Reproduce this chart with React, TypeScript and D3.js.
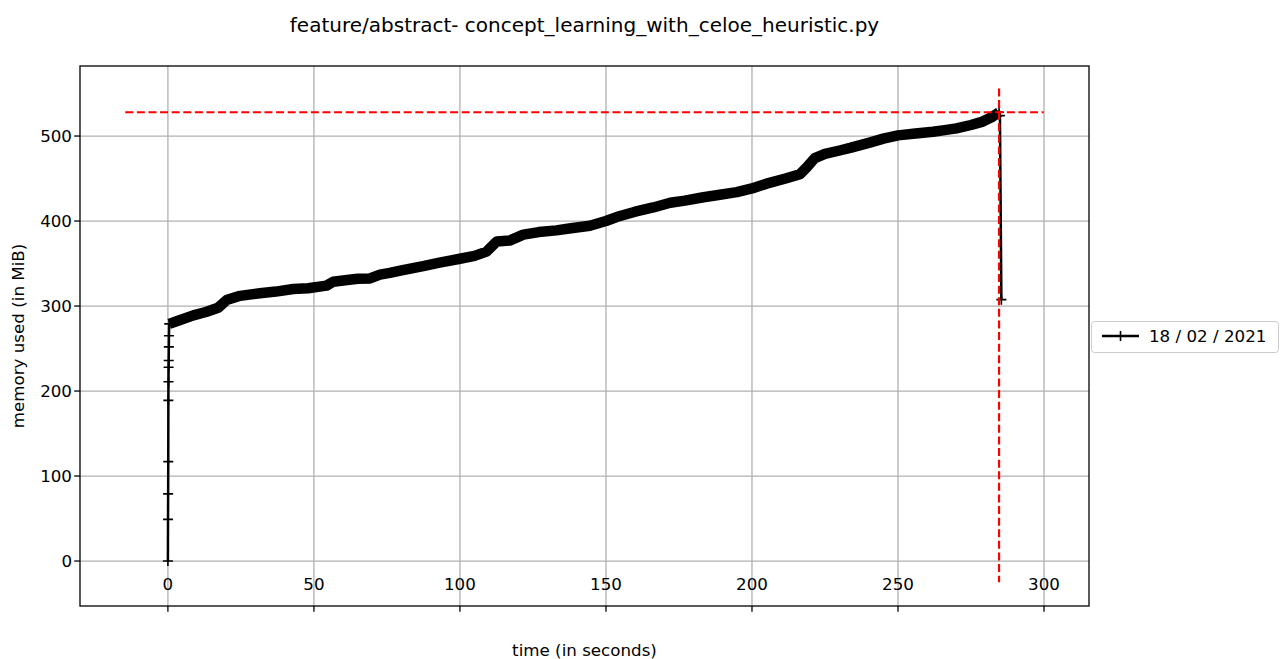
import React from 'react';
import * as d3 from 'd3';

// memory samples (seconds, MiB)
const startTimes = [0, 0.04, 0.08, 0.12, 0.16, 0.2, 0.24, 0.28, 0.32, 0.36, 0.45];
const startMem = [0, 49, 79, 117, 189, 211, 228, 236, 252, 265, 279];

const runTimes = [0.45, 3, 8.7, 13, 17.2, 20.1, 24.7, 31.5, 37, 42.9, 48, 54.3, 56.6, 60, 65, 69.2, 72.6, 76, 80, 87.4,
  93, 100, 105, 109.1, 112.6, 117, 121.7, 127, 133, 138, 144.5, 150, 154.8, 160, 166.2, 172, 177, 183.4, 189, 194.8,
  200, 205, 211.5, 216.4, 218.7, 221.5, 225, 230, 233.6, 240, 245, 250, 256, 262, 266, 270, 275, 279, 282, 284.6];
const runMem = [279, 282, 289, 293, 298, 307, 312, 315, 317, 320, 321, 324, 328.6, 330, 332, 332.5, 337, 339, 342, 347,
  351, 355.6, 359, 364, 376, 377, 384, 387, 389, 391.5, 394.5, 400, 406, 411, 416, 421.5, 424, 428, 431, 434,
  438.4, 444, 450, 455, 463, 474, 479, 483, 486, 492, 497, 500.8, 503, 505, 507, 509, 513, 517, 522, 528];

const endTimes = [284.6, 284.9, 285.4];
const endMem = [528, 524, 307.5];

const maxMem = 528;
const maxTime = 284.6;

const xTicks = [0, 50, 100, 150, 200, 250, 300];
const yTicks = [0, 100, 200, 300, 400, 500];

const title = 'feature/abstract- concept_learning_with_celoe_heuristic.py';
const legendLabel = '18 / 02 / 2021';

const W = 1282, H = 659;
const m = { left: 80, right: 1089, top: 66, bottom: 606 };
const font = '"DejaVu Sans", Verdana, sans-serif';
const fs = 16.7;

export default function App() {
  const x = d3.scaleLinear().domain([-30.1, 315.4]).range([m.left, m.right]);
  const y = d3.scaleLinear().domain([-52.9, 582.4]).range([m.bottom, m.top]);

  const line = d3.line<[number, number]>().x(d => x(d[0])).y(d => y(d[1]));

  const startPts = startTimes.map((t, i) => [t, startMem[i]] as [number, number]);
  const runPts = runTimes.map((t, i) => [t, runMem[i]] as [number, number]);
  const endPts = endTimes.map((t, i) => [t, endMem[i]] as [number, number]);
  const all = [...startPts, ...runPts.slice(1), ...endPts.slice(1)];

  const plus = (px: number, py: number, k: string, s = 5) => (
    <path key={k} d={`M${px - s},${py}H${px + s}M${px},${py - s}V${py + s}`} stroke="#000" strokeWidth={1.6} />
  );

  return (
    <svg width={W} height={H} style={{ position: 'absolute', left: 0, top: 0, background: '#fff' }}>
      <rect width={W} height={H} fill="#fff" />
      <text x={(m.left + m.right) / 2} y={32} textAnchor="middle" fontFamily={font} fontSize={20}>{title}</text>

      {/* grid */}
      <g stroke="#b0b0b0" strokeWidth={1.3}>
        {xTicks.map(t => <line key={t} x1={x(t)} x2={x(t)} y1={m.top} y2={m.bottom} />)}
        {yTicks.map(t => <line key={t} x1={m.left} x2={m.right} y1={y(t)} y2={y(t)} />)}
      </g>

      {/* dense run of samples: markers overlap into a band */}
      <path d={line(runPts) || ''} fill="none" stroke="#000" strokeWidth={10.5} strokeLinejoin="round" />
      <path d={line(all) || ''} fill="none" stroke="#000" strokeWidth={2.5} strokeLinejoin="round" />
      {startPts.map((p, i) => plus(x(p[0]), y(p[1]), 's' + i))}
      {endPts.map((p, i) => plus(x(p[0]), y(p[1]), 'e' + i))}

      {/* peak markers */}
      <line x1={x(-14.6)} x2={x(299.9)} y1={y(maxMem)} y2={y(maxMem)} stroke="#ff0000" strokeWidth={2.2} strokeDasharray="8,3.6" />
      <line x1={x(maxTime)} x2={x(maxTime)} y1={y(556)} y2={y(-25)} stroke="#ff0000" strokeWidth={2.2} strokeDasharray="8,3.6" />

      {/* frame */}
      <rect x={m.left} y={m.top} width={m.right - m.left} height={m.bottom - m.top} fill="none" stroke="#000" strokeWidth={1.3} />

      <g fontFamily={font} fontSize={fs}>
        {xTicks.map(t => (
          <g key={t}>
            <line x1={x(t)} x2={x(t)} y1={m.bottom} y2={m.bottom + 5.8} stroke="#000" strokeWidth={1.3} />
            <text x={x(t)} y={590} textAnchor="middle">{t}</text>
          </g>
        ))}
        <text x={(m.left + m.right) / 2} y={656} textAnchor="middle">time (in seconds)</text>
        {yTicks.map(t => (
          <g key={t}>
            <line x1={m.left - 5.8} x2={m.left} y1={y(t)} y2={y(t)} stroke="#000" strokeWidth={1.3} />
            <text x={72} y={y(t)} dy="0.36em" textAnchor="end">{t}</text>
          </g>
        ))}
        <text transform={`translate(24,${(m.top + m.bottom) / 2}) rotate(-90)`} textAnchor="middle">memory used (in MiB)</text>
      </g>

      {/* legend */}
      <g>
        <rect x={1091.5} y={321.5} width={187} height={31} rx={3} fill="#fff" fillOpacity={0.8} stroke="#cccccc" />
        <line x1={1102} x2={1139} y1={336} y2={336} stroke="#000" strokeWidth={2.5} />
        {plus(1120.5, 336, 'lg')}
        <text x={1149} y={342} fontFamily={font} fontSize={fs}>{legendLabel}</text>
      </g>
    </svg>
  );
}
